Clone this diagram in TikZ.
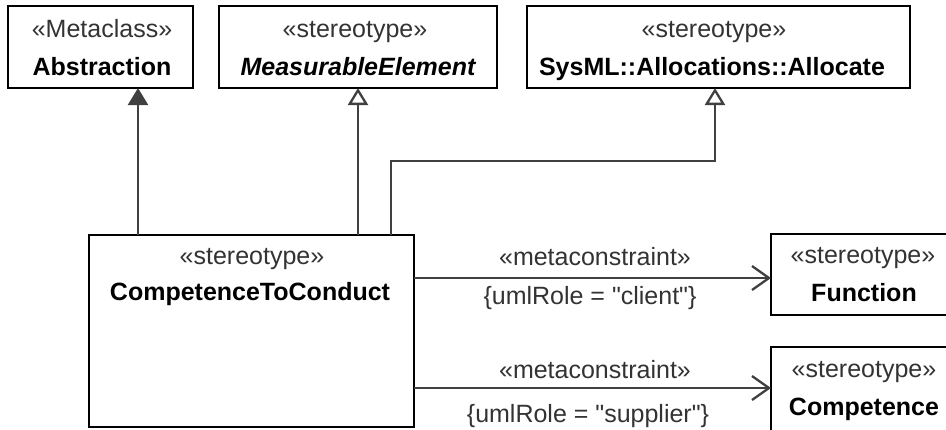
\documentclass[tikz,border=0pt]{standalone}
\usepackage{fontspec}
\setmainfont{Liberation Sans}[Ligatures=TeXOff]
\usetikzlibrary{arrows.meta}
\begin{document}
\begin{tikzpicture}[x=1pt,y=-1pt,
  box/.style={draw=black, line width=2.7pt, fill=white, inner sep=0pt, outer sep=0pt},
  st/.style={anchor=base, inner sep=0pt, font=\fontsize{25}{30}\selectfont, text=black!80},
  nm/.style={anchor=base, inner sep=0pt, font=\fontsize{25}{30}\selectfont\bfseries, text=black},
  conn/.style={line width=2.3pt, draw=black!75},
  gen/.style={conn, -{Triangle[open, length=17pt, width=20pt, fill=white]}},
  genf/.style={conn, -{Triangle[length=17pt, width=20pt]}},
  meta/.style={conn, -{Straight Barb[length=17pt, width=24pt]}},
]
\useasboundingbox (0,0) rectangle (946,429);
\clip (0,0) rectangle (946,429);
\fill[white] (0,0) rectangle (946,429);

% boxes
\node[box, minimum width=185pt, minimum height=82pt] (abs) at (100.5,47) {};
\node[box, minimum width=278pt, minimum height=82pt] (me) at (358,47) {};
\node[box, minimum width=383pt, minimum height=82pt] (alloc) at (718.5,47) {};
\node[box, minimum width=325pt, minimum height=192pt] (ctc) at (251.5,331) {};
\node[box, minimum width=184pt, minimum height=81pt] (fun) at (863,274.5) {};
\node[box, minimum width=184pt, minimum height=93pt] (comp) at (863,393.5) {};

% texts
\node[st] (t1) at (102,37) {«Metaclass»};
\node[nm] (n1) at (102,75) {Abstraction};
\node[st] (t2) at (355,37) {«stereotype»};
\node[nm] (n2) at (358,75) {\itshape MeasurableElement};
\node[st] (t3) at (714,37) {«stereotype»};
\node[nm] (n3) at (712,75) {SysML::Allocations::Allocate};
\node[st] (t4) at (252,264) {«stereotype»};
\node[nm] (n4) at (250,300) {CompetenceToConduct};
\node[st] (t5) at (863,263) {«stereotype»};
\node[nm] (n5) at (864,301) {Function};
\node[st] (t6) at (864,377) {«stereotype»};
\node[nm] (n6) at (864,415) {Competence};
\node[st] (l1) at (595,265) {«metaconstraint»};
\node[st] (l2) at (590,304) {\{umlRole = "client"\}};
\node[st] (l3) at (595,378) {«metaconstraint»};
\node[st] (l4) at (588,422) {\{umlRole = "supplier"\}};

% connector helpers
\coordinate (xa) at (138,0);
\coordinate (xm) at (358,0);
\coordinate (k1) at (391,161);
\coordinate (k2) at (715,161);
\coordinate (m1) at (0,278);
\coordinate (m2) at (0,388);

\draw[genf] (ctc.north -| xa) -- (abs.south -| xa);
\draw[gen] (ctc.north -| xm) -- (me.south -| xm);
\draw[gen] (ctc.north -| k1) -- (k1) -- (k2) -- (alloc.south -| k2);
\draw[meta] (ctc.east |- m1) -- (fun.west |- m1);
\draw[meta] (ctc.east |- m2) -- (comp.west |- m2);
\end{tikzpicture}
\end{document}
